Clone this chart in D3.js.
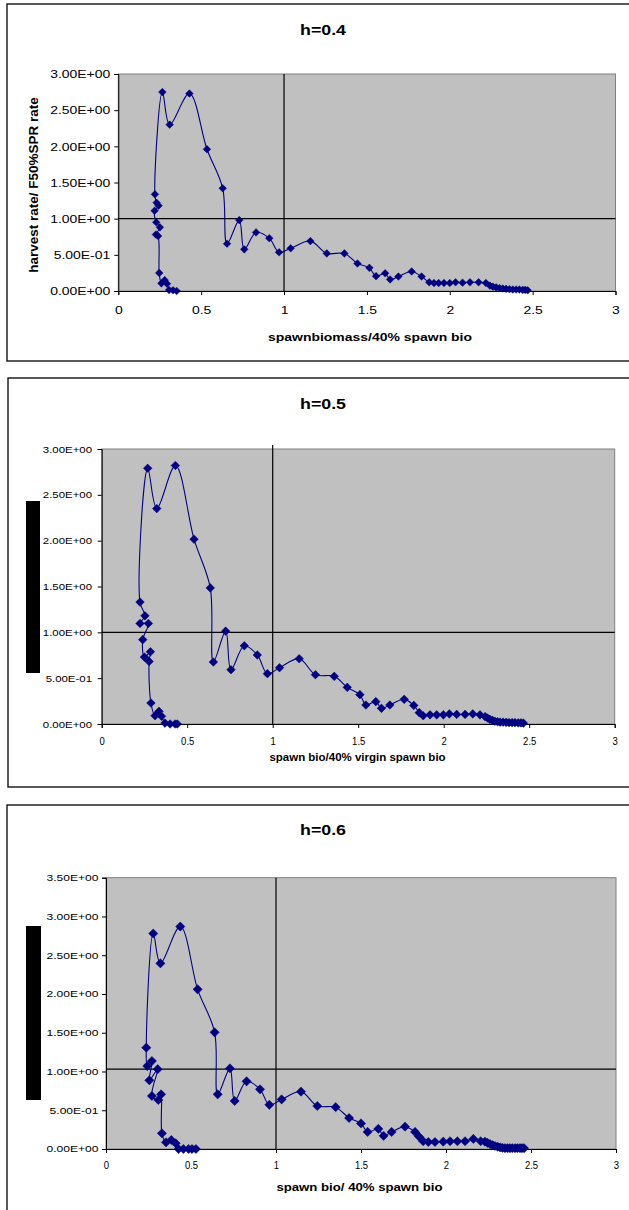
<!DOCTYPE html>
<html><head><meta charset="utf-8">
<script src="https://cdn.jsdelivr.net/npm/d3@7"></script>
<style>
body{margin:0;background:#fff}
svg{display:block}
text{font-family:"Liberation Sans",Arial,sans-serif;fill:#000}
</style>
</head><body>
<svg id="c" width="629" height="1210"></svg>
<script>
// ---------- data ----------
const xTicks = [0, 0.5, 1, 1.5, 2, 2.5, 3];
const xTickLabels = ["0", "0.5", "1", "1.5", "2", "2.5", "3"];
const yTicks3 = [0, 0.5, 1, 1.5, 2, 2.5, 3];
const yTicks35 = [0, 0.5, 1, 1.5, 2, 2.5, 3, 3.5];
const yTickLabels = ["0.00E+00", "5.00E-01", "1.00E+00", "1.50E+00", "2.00E+00", "2.50E+00", "3.00E+00", "3.50E+00"];
const titles = ["h=0.4", "h=0.5", "h=0.6"];
const xTitles = ["spawnbiomass/40% spawn bio", "spawn bio/40% virgin spawn bio", "spawn bio/ 40% spawn bio"];
const yTitle = "harvest rate/ F50%SPR rate";
const refX = [1, 1, 1];
const refY = [1, 1, 1.03];

const h04 = [[2.47,0.01],[2.455,0.015],[2.44,0.015],[2.42,0.02],[2.40,0.02],[2.38,0.02],[2.36,0.025],[2.34,0.03],[2.32,0.035],[2.30,0.04],[2.28,0.05],[2.26,0.06],[2.242,0.075],[2.218,0.11],[2.174,0.12],[2.122,0.12],[2.077,0.115],[2.035,0.12],[2.0,0.11],[1.965,0.11],[1.933,0.11],[1.905,0.11],[1.876,0.12],[1.83,0.2],[1.77,0.27],[1.69,0.2],[1.64,0.16],[1.61,0.245],[1.555,0.205],[1.515,0.32],[1.443,0.38],[1.364,0.52],[1.258,0.52],[1.159,0.69],[1.04,0.59],[0.97,0.535],[0.911,0.73],[0.831,0.81],[0.76,0.576],[0.73,0.98],[0.656,0.654],[0.63,1.42],[0.535,1.96],[0.429,2.73],[0.31,2.3],[0.266,2.75],[0.221,1.336],[0.231,1.22],[0.243,1.18],[0.219,1.11],[0.229,0.95],[0.251,0.88],[0.227,0.78],[0.24,0.76],[0.247,0.25],[0.26,0.106],[0.28,0.15],[0.294,0.1],[0.306,0.014],[0.33,0.01],[0.352,0.0]];

const h05 = [[2.466,0.01],[2.452,0.012],[2.436,0.012],[2.417,0.015],[2.40,0.015],[2.382,0.015],[2.365,0.018],[2.347,0.02],[2.33,0.02],[2.315,0.025],[2.3,0.03],[2.285,0.04],[2.27,0.05],[2.256,0.065],[2.242,0.08],[2.212,0.1],[2.17,0.11],[2.125,0.105],[2.076,0.105],[2.033,0.11],[1.998,0.1],[1.959,0.1],[1.92,0.1],[1.88,0.09],[1.857,0.124],[1.825,0.203],[1.769,0.269],[1.685,0.207],[1.636,0.171],[1.603,0.244],[1.545,0.207],[1.51,0.32],[1.436,0.4],[1.36,0.52],[1.25,0.538],[1.155,0.712],[1.04,0.614],[0.969,0.549],[0.91,0.753],[0.834,0.853],[0.756,0.592],[0.725,1.013],[0.653,0.676],[0.635,1.485],[0.54,2.016],[0.431,2.82],[0.322,2.35],[0.269,2.79],[0.224,1.33],[0.253,1.18],[0.224,1.097],[0.273,1.097],[0.24,0.92],[0.25,0.73],[0.285,0.788],[0.277,0.683],[0.288,0.229],[0.312,0.09],[0.335,0.138],[0.35,0.084],[0.37,0.01],[0.4,0.0],[0.429,0.0],[0.442,0.0]];

const h06 = [[2.459,0.01],[2.447,0.01],[2.435,0.01],[2.42,0.01],[2.406,0.01],[2.39,0.01],[2.376,0.01],[2.362,0.01],[2.347,0.01],[2.332,0.015],[2.318,0.021],[2.303,0.03],[2.288,0.039],[2.274,0.05],[2.259,0.064],[2.244,0.08],[2.229,0.094],[2.204,0.1],[2.161,0.13],[2.112,0.1],[2.067,0.1],[2.024,0.1],[1.984,0.095],[1.935,0.09],[1.896,0.09],[1.866,0.1],[1.841,0.16],[1.818,0.22],[1.759,0.288],[1.68,0.22],[1.633,0.17],[1.602,0.26],[1.539,0.22],[1.5,0.33],[1.43,0.4],[1.351,0.54],[1.243,0.555],[1.147,0.74],[1.033,0.64],[0.961,0.57],[0.906,0.77],[0.827,0.873],[0.757,0.62],[0.729,1.04],[0.657,0.705],[0.639,1.505],[0.539,2.06],[0.437,2.87],[0.32,2.395],[0.278,2.78],[0.237,1.307],[0.243,1.07],[0.27,1.135],[0.255,0.886],[0.304,1.03],[0.27,0.684],[0.308,0.632],[0.324,0.705],[0.329,0.202],[0.353,0.086],[0.384,0.116],[0.41,0.073],[0.427,0.0],[0.455,0.0],[0.486,0.0],[0.506,0.0],[0.529,0.0]];

// ---------- layout ----------
const svg = d3.select("#c");
svg.append("rect").attr("width",629).attr("height",1210).attr("fill","#fff");

const panels = [
  { data:h04, yTicks:yTicks3, yMax:3, box:[7,4,700,357],
    plot:{l:118.3,r:615.5,t:74,b:291}, vTop:74,
    title:{x:323,y:35,fs:14,sx:1.27},
    xt:{x:370,y:341,fs:11,sx:1.27},
    ytick:{fs:11,sx:1.27,off:8}, xtick:{fs:11,sx:1.27,base:314},
    yt:{x:37.5,y:185,fs:13.5}, rect:null, r:3.8 },
  { data:h05, yTicks:yTicks3, yMax:3, box:[8,378,700,409],
    plot:{l:101.7,r:614.7,t:449,b:724}, vTop:445,
    title:{x:323,y:409,fs:14,sx:1.27},
    xt:{x:357.5,y:761,fs:10,sx:1.15},
    ytick:{fs:8.8,sx:1.3,off:9.7}, xtick:{fs:10,sx:0.95,base:745},
    yt:null, rect:[26,501,14,172], r:4.3 },
  { data:h06, yTicks:yTicks35, yMax:3.5, box:[7,805,700,420],
    plot:{l:106,r:616,t:877.7,b:1149}, vTop:877.7,
    title:{x:323,y:835,fs:14,sx:1.27},
    xt:{x:359.5,y:1190.5,fs:11,sx:1.2},
    ytick:{fs:8.5,sx:1.42,off:7.5}, xtick:{fs:10,sx:0.95,base:1169},
    yt:null, rect:[26,926,15,174], r:4.6 }
];

function stretchedText(g, str, x, y, fs, sx, bold){
  return g.append("text")
    .attr("transform",`translate(${x},${y}) scale(${sx},1)`)
    .attr("text-anchor","middle")
    .attr("font-size",fs)
    .attr("font-weight",bold?"bold":"normal")
    .text(str);
}

panels.forEach((p,i)=>{
  const g = svg.append("g");
  g.append("rect").attr("x",p.box[0]).attr("y",p.box[1]).attr("width",p.box[2]).attr("height",p.box[3])
    .attr("fill","none").attr("stroke","#000").attr("stroke-width",1.3);

  const x = d3.scaleLinear().domain([0,3]).range([p.plot.l,p.plot.r]);
  const y = d3.scaleLinear().domain([0,p.yMax]).range([p.plot.b,p.plot.t]);

  g.append("rect").attr("x",p.plot.l).attr("y",p.plot.t)
    .attr("width",p.plot.r-p.plot.l).attr("height",p.plot.b-p.plot.t)
    .attr("fill","#c0c0c0").attr("stroke","#808080").attr("stroke-width",1);

  g.append("line").attr("x1",x(refX[i])).attr("x2",x(refX[i])).attr("y1",p.vTop).attr("y2",p.plot.b)
    .attr("stroke","#000").attr("stroke-width",1.2);
  g.append("line").attr("x1",p.plot.l).attr("x2",p.plot.r).attr("y1",y(refY[i])).attr("y2",y(refY[i]))
    .attr("stroke","#000").attr("stroke-width",1.2);

  const ya = g.append("g").attr("transform",`translate(${p.plot.l},0)`)
    .call(d3.axisLeft(y).tickValues(p.yTicks).tickSize(4).tickFormat((d,k)=>yTickLabels[k]));
  ya.select(".domain").attr("stroke","#000");
  ya.selectAll(".tick line").attr("stroke","#000");
  ya.selectAll(".tick text")
    .attr("x",null).attr("dy","0.34em")
    .attr("font-size",p.ytick.fs).attr("font-family","Liberation Sans, Arial, sans-serif")
    .attr("transform",`translate(${-p.ytick.off},0) scale(${p.ytick.sx},1)`);

  const xa = g.append("g").attr("transform",`translate(0,${p.plot.b})`)
    .call(d3.axisBottom(x).tickValues(xTicks).tickSize(4).tickFormat((d,k)=>xTickLabels[k]));
  xa.select(".domain").attr("stroke","#000");
  xa.selectAll(".tick line").attr("stroke","#000");
  xa.selectAll(".tick text")
    .attr("y",0).attr("dy",0)
    .attr("font-size",p.xtick.fs).attr("font-family","Liberation Sans, Arial, sans-serif")
    .attr("transform",`translate(0,${p.xtick.base-p.plot.b}) scale(${p.xtick.sx},1)`);

  const line = d3.line().x(d=>x(d[0])).y(d=>y(d[1])).curve(d3.curveCatmullRom.alpha(0.5));
  g.append("path").datum(p.data).attr("d",line)
    .attr("fill","none").attr("stroke","#000080").attr("stroke-width",1.1);

  const r = p.r;
  g.selectAll("path.mk").data(p.data).enter().append("path").attr("class","mk")
    .attr("d",`M0,${-r}L${r},0L0,${r}L${-r},0Z`)
    .attr("transform",d=>`translate(${x(d[0])},${y(d[1])})`)
    .attr("fill","#000080").attr("stroke","#000080").attr("stroke-width",0.5);

  stretchedText(g, titles[i], p.title.x, p.title.y, p.title.fs, p.title.sx, true);
  stretchedText(g, xTitles[i], p.xt.x, p.xt.y, p.xt.fs, p.xt.sx, true);
  if (p.yt){
    g.append("text").attr("transform",`translate(${p.yt.x},${p.yt.y}) rotate(-90)`)
      .attr("text-anchor","middle").attr("font-size",p.yt.fs).attr("font-weight","bold")
      .text(yTitle);
  }
  if (p.rect){
    g.append("rect").attr("x",p.rect[0]).attr("y",p.rect[1]).attr("width",p.rect[2]).attr("height",p.rect[3])
      .attr("fill","#000");
  }
});
</script>
</body></html>
